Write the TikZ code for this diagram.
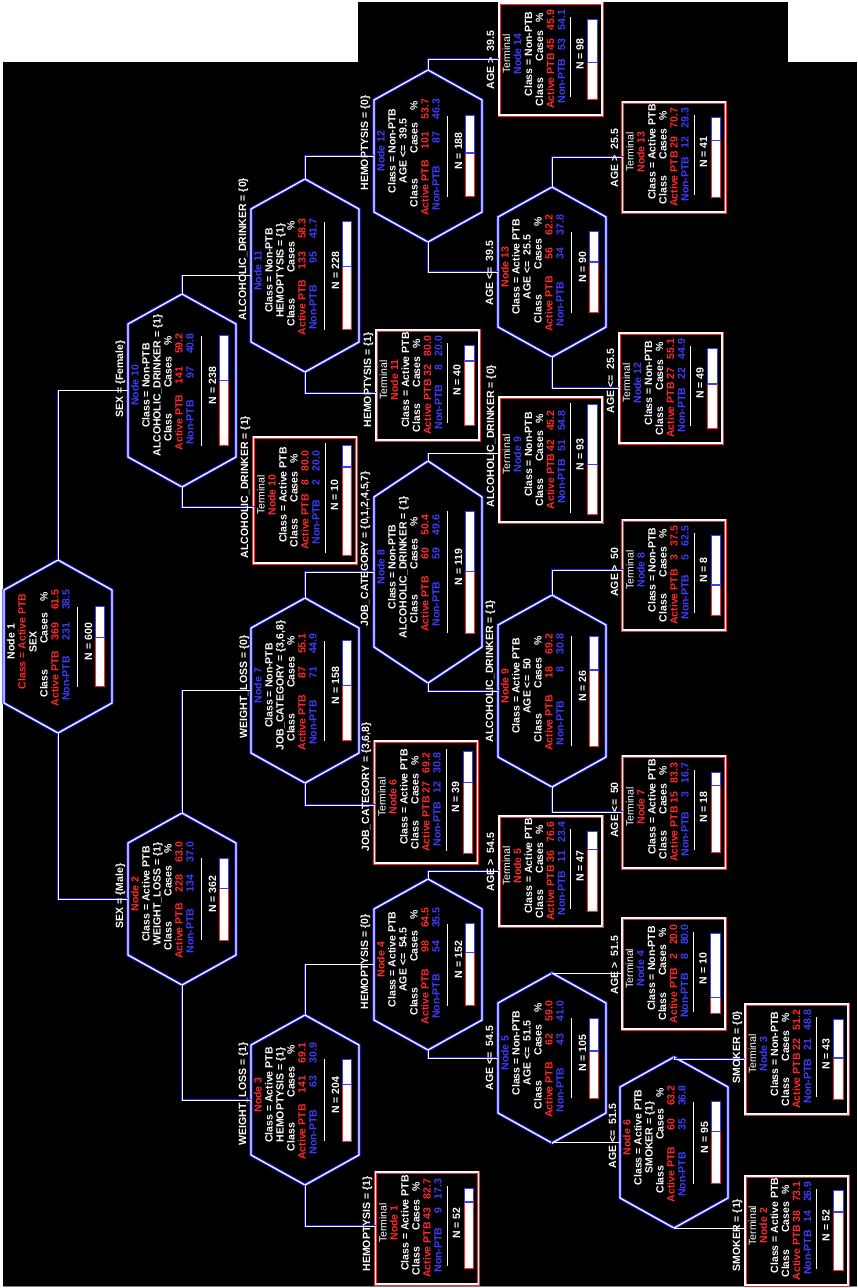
\documentclass[tikz,border=0pt]{standalone}
\usepackage{fontspec}
\setmainfont{Liberation Sans}
\definecolor{tred}{RGB}{255,40,40}
\definecolor{tblue}{RGB}{60,60,255}
\definecolor{lblue}{RGB}{30,30,235}
\newcommand\tfont{\fontsize{10.5}{11}\selectfont\bfseries}
\newcommand\rfont{\fontsize{10.5}{11}\selectfont}
\pgfkeys{/tree/.cd,
 name/.store in=\Tname, cx/.store in=\Tcx, cy/.store in=\Tcy,
 L/.store in=\TL, t/.store in=\Tt, b/.store in=\Tb,
 col/.store in=\Tcol, num/.store in=\Tnum, cls/.store in=\Tcls,
 clscol/.store in=\Tclscol, split/.store in=\Tsplit,
 a/.store in=\Ta, ap/.store in=\Tap, n/.store in=\Tn, np/.store in=\Tnp, N/.store in=\TN}
\tikzset{
 tx/.style={transform shape, inner sep=0pt, outer sep=0pt, anchor=base, text=white, font=\tfont},
 elabel/.style={rotate=90, inner sep=0pt, anchor=base, text=white, font=\tfont},
 hexline/.style={draw=lblue, double=white, double distance=1.3pt, line width=1pt, line join=miter},
 termred/.style={draw=tred, line width=3pt},
 termwhite/.style={draw=white, line width=1.4pt},
 conn/.style={draw=lblue, double=white, double distance=0.6pt, line width=0.5pt},
 rulehex/.style={draw=white, line width=1pt},
 shapebox/.style={inner sep=0pt, outer sep=0pt, draw=none},
}
\newcommand\DrawBar{%
 \pgfmathsetmacro\Td{\Tb*(2*\Tap/100-1)}%
 \fill[white] (-\Tb,37) rectangle (\Tb,46.5);
 \draw[tred,line width=0.9pt] (\Td,37) -- (-\Tb,37) -- (-\Tb,46.5) -- (\Td,46.5);
 \draw[tblue,line width=0.9pt] (\Td,37) -- (\Tb,37) -- (\Tb,46.5) -- (\Td,46.5);
 \draw[tblue,line width=1.4pt] (\Td,37) -- (\Td,46.5);}
\newcommand\HexNode[1]{%
 \pgfkeys{/tree/.cd,t=30,b=41,cls={Active PTB},clscol=white,col=tred,#1}%
 \node[shapebox, name=\Tname, minimum width=108pt, minimum height={2*\TL*1pt}] at (\Tcx,\Tcy) {};
 \draw[hexline] ({\Tcx},{\Tcy-\TL}) -- ({\Tcx-54},{\Tcy-\TL+\Tt}) -- ({\Tcx-54},{\Tcy+\TL-\Tt}) -- ({\Tcx},{\Tcy+\TL}) -- ({\Tcx+54},{\Tcy+\TL-\Tt}) -- ({\Tcx+54},{\Tcy-\TL+\Tt}) -- cycle;
 \begin{scope}[shift={(\Tcx,\Tcy)},rotate=90]
  \node[tx,text=\Tcol,name=\Tname-l1] at (5,-43.3) {Node \Tnum};
  \node[tx,text=\Tclscol,name=\Tname-l2] at (5,-32.3) {Class = \Tcls};
  \node[tx,name=\Tname-l3] at (5,-21.3) {\Tsplit};
  \node[tx,name=\Tname-h1] at (-37,-10.3) {Class};
  \node[tx,name=\Tname-h2] at (18,-10.3) {Cases};
  \node[tx,name=\Tname-h3] at (50,-10.3) {\%};
  \node[tx,text=tred,name=\Tname-a1] at (-32,0.7) {Active PTB};
  \node[tx,text=tred,anchor=base east,name=\Tname-a2] at (24,0.7) {\Ta};
  \node[tx,text=tred,anchor=base east,name=\Tname-a3] at (57,0.7) {\Tap};
  \node[tx,text=tblue,name=\Tname-b1] at (-32,11.7) {Non-PTB};
  \node[tx,text=tblue,anchor=base east,name=\Tname-b2] at (24,11.7) {\Tn};
  \node[tx,text=tblue,anchor=base east,name=\Tname-b3] at (57,11.7) {\Tnp};
  \draw[rulehex] (-\Tb,19.5) -- (\Tb,19.5);
  \node[tx,name=\Tname-nn] at (5,34.2) {N = \TN};
  \DrawBar
 \end{scope}}
\newcommand\TermNode[1]{%
 \pgfkeys{/tree/.cd,b=40,clscol=white,#1}%
 \node[shapebox, name=\Tname, minimum width=103pt, minimum height={2*\TL*1pt}] at (\Tcx,\Tcy) {};
 \draw[termred] (\Tname.south west) rectangle (\Tname.north east);
 \draw[termwhite] (\Tname.south west) rectangle (\Tname.north east);
 \begin{scope}[shift={(\Tcx,\Tcy)},rotate=90]
  \node[tx,font=\rfont,name=\Tname-l0] at (5,-40.3) {Terminal};
  \node[tx,text=\Tcol,name=\Tname-l1] at (5,-29.3) {Node \Tnum};
  \node[tx,name=\Tname-l2] at (5,-18.3) {Class = \Tcls};
  \node[tx,name=\Tname-h1] at (-33,-7.3) {Class};
  \node[tx,name=\Tname-h2] at (13,-7.3) {Cases};
  \node[tx,name=\Tname-h3] at (41,-7.3) {\%};
  \node[tx,text=tred,name=\Tname-a1] at (-22,3.7) {Active PTB};
  \node[tx,text=tred,anchor=base east,name=\Tname-a2] at (20,3.7) {\Ta};
  \node[tx,text=tred,anchor=base east,name=\Tname-a3] at (49,3.7) {\Tap};
  \node[tx,text=tblue,name=\Tname-b1] at (-22,14.7) {Non-PTB};
  \node[tx,text=tblue,anchor=base east,name=\Tname-b2] at (20,14.7) {\Tn};
  \node[tx,text=tblue,anchor=base east,name=\Tname-b3] at (49,14.7) {\Tnp};
  \draw[rulehex] (-\Tb+2,20) -- (\Tb+2,20);
  \node[tx,name=\Tname-nn] at (5,33.2) {N = \TN};
  \DrawBar
 \end{scope}}

\begin{document}
\begin{tikzpicture}[x=1pt,y=-1pt]
\useasboundingbox (0,0) rectangle (857,1288);
\fill[white] (0,0) rectangle (857,1288);
\fill[black] (3,62) rectangle (857,1286);
\fill[black] (358,2) rectangle (788,62);
\draw[gray,line width=1pt] (3,1286.5) -- (857,1286.5);

% internal nodes
\HexNode{name=n1,cx=58,cy=646.5,L=86.5,b=40,col=white,clscol=tred,num=1,split={SEX},a=369,ap=61.5,n=231,np=38.5,N=600}
\HexNode{name=n2,cx=182,cy=899,L=86,num=2,split={WEIGHT\_LOSS = \{1\}},a=228,ap=63.0,n=134,np=37.0,N=362}
\HexNode{name=n3,cx=305,cy=1100,L=85,num=3,split={HEMOPTYSIS = \{1\}},a=141,ap=69.1,n=63,np=30.9,N=204}
\HexNode{name=n4,cx=428,cy=964.5,L=85.5,num=4,split={AGE <= \ 54.5},a=98,ap=64.5,n=54,np=35.5,N=152}
\HexNode{name=n5,cx=552,cy=1058,L=85,b=40,col=tblue,cls={Non-PTB},num=5,split={AGE <= \ 51.5},a=62,ap=59.0,n=43,np=41.0,N=105}
\HexNode{name=n6,cx=674,cy=1142.5,L=85.5,num=6,split={SMOKER = \{1\}},a=60,ap=63.2,n=35,np=36.8,N=95}
\HexNode{name=n7,cx=305,cy=690.5,L=92.5,b=50,col=tblue,cls={Non-PTB},num=7,split={JOB\_CATEGORY = \{3,6,8\}},a=87,ap=55.1,n=71,np=44.9,N=158}
\HexNode{name=n8,cx=428,cy=572,L=111,t=36,b=61,col=tblue,cls={Non-PTB},num=8,split={ALCOHOLIC\_DRINKER = \{1\}},a=60,ap=50.4,n=59,np=49.6,N=119}
\HexNode{name=n9,cx=552,cy=691,L=96,b=55,num=9,split={AGE <= \ 50},a=18,ap=69.2,n=8,np=30.8,N=26}
\HexNode{name=n10,cx=182,cy=390.5,L=96.5,b=55,col=tblue,cls={Non-PTB},num=10,split={ALCOHOLIC\_DRINKER = \{1\}},a=141,ap=59.2,n=97,np=40.8,N=238}
\HexNode{name=n11,cx=305,cy=275.5,L=96.5,b=54,col=tblue,cls={Non-PTB},num=11,split={HEMOPTYSIS = \{1\}},a=133,ap=58.3,n=95,np=41.7,N=228}
\HexNode{name=n12,cx=428,cy=156,L=86,b=40.5,col=tblue,cls={Non-PTB},num=12,split={AGE <= \ 39.5},a=101,ap=53.7,n=87,np=46.3,N=188}
\HexNode{name=n13,cx=552,cy=272,L=85,b=40.5,num=13,split={AGE <= \ 25.5},a=56,ap=62.2,n=34,np=37.8,N=90}

% terminal nodes
\TermNode{name=t1,cx=427,cy=1228,L=56,col=tred,cls={Active PTB},num=1,a=43,ap=82.7,n=9,np=17.3,N=52}
\TermNode{name=t2,cx=796.5,cy=1230.5,L=54.5,col=tred,cls={Active PTB},num=2,a=38,ap=73.1,n=14,np=26.9,N=52}
\TermNode{name=t3,cx=796.5,cy=1059,L=55,col=tblue,cls={Non-PTB},num=3,a=22,ap=51.2,n=21,np=48.8,N=43}
\TermNode{name=t4,cx=673.5,cy=973.5,L=55.5,col=tblue,cls={Non-PTB},num=4,a=2,ap=20.0,n=8,np=80.0,N=10}
\TermNode{name=t5,cx=550.5,cy=871,L=55,col=tred,cls={Active PTB},num=5,a=36,ap=76.6,n=11,np=23.4,N=47}
\TermNode{name=t6,cx=426,cy=802,L=61,b=51,col=tred,cls={Active PTB},num=6,a=27,ap=69.2,n=12,np=30.8,N=39}
\TermNode{name=t7,cx=674,cy=812,L=56,col=tred,cls={Active PTB},num=7,a=15,ap=83.3,n=3,np=16.7,N=18}
\TermNode{name=t8,cx=674,cy=575,L=55,col=tblue,cls={Non-PTB},num=8,a=3,ap=37.5,n=5,np=62.5,N=8}
\TermNode{name=t9,cx=550.5,cy=459.5,L=62.5,b=55,col=tblue,cls={Non-PTB},num=9,a=42,ap=45.2,n=51,np=54.8,N=93}
\TermNode{name=t10,cx=305,cy=500,L=63,b=55,col=tred,cls={Active PTB},num=10,a=8,ap=80.0,n=2,np=20.0,N=10}
\TermNode{name=t11,cx=427.5,cy=385,L=55,col=tred,cls={Active PTB},num=11,a=32,ap=80.0,n=8,np=20.0,N=40}
\TermNode{name=t12,cx=670.5,cy=388,L=55,col=tblue,cls={Non-PTB},num=12,a=27,ap=55.1,n=22,np=44.9,N=49}
\TermNode{name=t13,cx=674,cy=157,L=55,col=tred,cls={Active PTB},num=13,a=29,ap=70.7,n=12,np=29.3,N=41}
\TermNode{name=t14,cx=550.5,cy=59,L=56,col=tblue,cls={Non-PTB},num=14,a=45,ap=45.9,n=53,np=54.1,N=98}

% connectors
\draw[conn] (n1.north) |- (n10.west);
\draw[conn] (n1.south) |- (n2.west);
\draw[conn] (n2.north) |- (n7.west);
\draw[conn] (n2.south) |- (n3.west);
\draw[conn] (n3.north) |- (n4.west);
\draw[conn] (n3.south) |- ([yshift=2pt]t1.west);
\draw[conn] (n4.north) |- (t5.west);
\draw[conn] (n4.south) |- (n5.west);
\draw[conn] (n5.north) |- (t4.west);
\draw[conn] (n5.south) |- (n6.west);
\draw[conn] (n6.north) |- (t3.west);
\draw[conn] (n6.south) |- ([yshift=2pt]t2.west);
\draw[conn] (n7.north) |- (n8.west);
\draw[conn] (n7.south) |- ([yshift=-3pt]t6.west);
\draw[conn] (n8.north) |- ([yshift=6pt]t9.west);
\draw[conn] (n8.south) |- (n9.west);
\draw[conn] (n9.north) |- ([yshift=5pt]t8.west);
\draw[conn] (n9.south) |- (t7.west);
\draw[conn] (n10.north) |- (n11.west);
\draw[conn] (n10.south) |- ([yshift=-7pt]t10.west);
\draw[conn] (n11.north) |- (n12.west);
\draw[conn] (n11.south) |- ([yshift=-8pt]t11.west);
\draw[conn] (n12.north) |- (t14.west);
\draw[conn] (n12.south) |- (n13.west);
\draw[conn] (n13.north) |- (t13.west);
\draw[conn] (n13.south) |- (t12.west);

% edge labels
\node[elabel] (e1) at (123,896) {SEX = \{Male\}};
\node[elabel] (e2) at (123,379) {SEX = \{Female\}};
\node[elabel] (e3) at (246,1094) {WEIGHT\_LOSS = \{1\}};
\node[elabel] (e4) at (247,687) {WEIGHT\_LOSS = \{0\}};
\node[elabel] (e5) at (370,1224) {HEMOPTYSIS = \{1\}};
\node[elabel] (e6) at (368,962) {HEMOPTYSIS = \{0\}};
\node[elabel] (e7) at (369,787) {JOB\_CATEGORY = \{3,6,8\}};
\node[elabel] (e8) at (368,549) {JOB\_CATEGORY = \{0,1,2,4,5,7\}};
\node[elabel] (e9) at (248,487) {ALCOHOLIC\_DRINKER = \{1\}};
\node[elabel] (e10) at (246,249) {ALCOHOLIC\_DRINKER = \{0\}};
\node[elabel] (e11) at (371,380) {HEMOPTYSIS = \{1\}};
\node[elabel] (e12) at (368,143) {HEMOPTYSIS = \{0\}};
\node[elabel] (e13) at (493,1058) {AGE <= \ 54.5};
\node[elabel] (e14) at (494,862) {AGE > \ 54.5};
\node[elabel] (e15) at (493,671) {ALCOHOLIC\_DRINKER = \{1\}};
\node[elabel] (e16) at (494,436) {ALCOHOLIC\_DRINKER = \{0\}};
\node[elabel] (e17) at (493,273) {AGE <= \ 39.5};
\node[elabel] (e18) at (494,60) {AGE > \ 39.5};
\node[elabel] (e19) at (616,1136) {AGE <= \ 51.5};
\node[elabel] (e20) at (618,965) {AGE > \ 51.5};
\node[elabel] (e21) at (618,810) {AGE <= \ 50};
\node[elabel] (e22) at (618,572) {AGE > \ 50};
\node[elabel] (e23) at (614,381) {AGE <= \ 25.5};
\node[elabel] (e24) at (618,158) {AGE > \ 25.5};
\node[elabel] (e25) at (740,1235) {SMOKER = \{1\}};
\node[elabel] (e26) at (740,1047) {SMOKER = \{0\}};
\end{tikzpicture}
\end{document}
